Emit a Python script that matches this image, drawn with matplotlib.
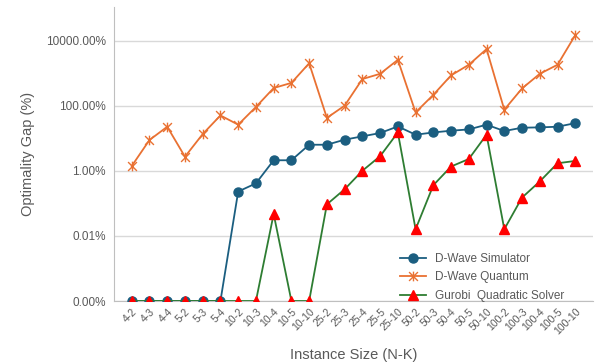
import numpy as np
import matplotlib
matplotlib.use("Agg")
import matplotlib.pyplot as plt
from matplotlib.path import Path
from matplotlib.ticker import FixedLocator, FuncFormatter

plt.rcParams["font.family"] = ["Liberation Sans", "DejaVu Sans"]

instancias = ["4-2", "4-3", "4-4", "5-2", "5-3", "5-4",
              "10-2", "10-3", "10-4", "10-5", "10-10",
              "25-2", "25-3", "25-4", "25-5", "25-10",
              "50-2", "50-3", "50-4", "50-5", "50-10",
              "100-2", "100-3", "100-4", "100-5", "100-10"]

# valores en %, 0.0001 = "0.00%" (piso del eje log)
dwave_sim = [0.0001, 0.0001, 0.0001, 0.0001, 0.0001, 0.0001,
             0.23, 0.41, 2.1, 2.1, 6.3,
             6.3, 9.0, 11.4, 14.4, 23,
             12.8, 15, 17, 18.6, 26,
             16.6, 21, 21.5, 22.5, 29]
dwave_q = [1.4, 8.8, 22.5, 2.7, 13.4, 50,
           26, 91, 347, 500, 2000,
           42, 100, 655, 950, 2550,
           62, 215, 850, 1800, 5450,
           75, 337, 950, 1800, 14600]
gurobi = [0.0001, 0.0001, 0.0001, 0.0001, 0.0001, 0.0001,
          0.0001, 0.0001, 0.047, 0.0001, 0.0001,
          0.093, 0.27, 1.0, 2.8, 15,
          0.016, 0.36, 1.35, 2.3, 12.8,
          0.016, 0.15, 0.47, 1.7, 2.0]

y_ticks = [0.0001, 0.01, 1, 100, 10000]

# marcador tipo estrella de Excel (X + linea vertical)
estrella = Path([(-1, -1), (1, 1), (-1, 1), (1, -1), (0, -1.1), (0, 1.1)],
                [Path.MOVETO, Path.LINETO, Path.MOVETO, Path.LINETO,
                 Path.MOVETO, Path.LINETO])

fig = plt.figure(figsize=(5.96, 3.64), dpi=100)
ax = fig.add_axes([114 / 596, 1 - 301 / 364, (593 - 114) / 596, (301 - 7) / 364])

x = np.arange(len(instancias))

ax.plot(x, dwave_sim, color="#1B5E80", linewidth=1.3, marker="o",
        markersize=6.5, label="D-Wave Simulator", zorder=3)
ax.plot(x, dwave_q, color="#E97132", linewidth=1.3, marker=estrella,
        markersize=7, markeredgewidth=1.0, label="D-Wave Quantum", zorder=3)
ax.plot(x, gurobi, color="#2E7D32", linewidth=1.3, marker="^",
        markersize=7, markerfacecolor="#FF0000", markeredgecolor="#FF0000",
        label="Gurobi  Quadratic Solver", zorder=4)

ax.set_yscale("log")
ax.set_ylim(0.0001, 1.07e5)
ax.set_xlim(-1, 26)
ax.yaxis.set_major_locator(FixedLocator(y_ticks))
ax.yaxis.set_minor_locator(FixedLocator([]))
ax.yaxis.set_major_formatter(FuncFormatter(lambda v, _: f"{v:.2f}%"))

ax.set_xticks(x)
ax.set_xticklabels(instancias, rotation=45, ha="right", rotation_mode="anchor",
                   fontsize=7.5, color="#595959")
ax.tick_params(axis="x", length=0, pad=4)
ax.tick_params(axis="y", length=0, labelsize=8.5, labelcolor="#595959", pad=6)

ax.xaxis.set_minor_locator(FixedLocator([4, 9, 14, 19, 24]))
ax.grid(axis="y", which="major", color="#D9D9D9", linewidth=1)
ax.grid(axis="x", which="minor", color="#D9D9D9", linewidth=1)
ax.tick_params(axis="x", which="minor", length=0)

for s in ["top", "right"]:
    ax.spines[s].set_visible(False)
for s in ["left", "bottom"]:
    ax.spines[s].set_color("#BFBFBF")

ax.set_ylabel("Optimality Gap (%)", fontsize=10.5, color="#595959", labelpad=8)
ax.set_xlabel("Instance Size (N-K)", fontsize=10.5, color="#595959", labelpad=8)

ax.legend(loc="lower right", bbox_to_anchor=(0.96, -0.035), frameon=False,
          fontsize=8.5, labelcolor="#595959", handlelength=2.2,
          borderpad=0.3, labelspacing=0.55)

plt.savefig("out.png", dpi=100)
